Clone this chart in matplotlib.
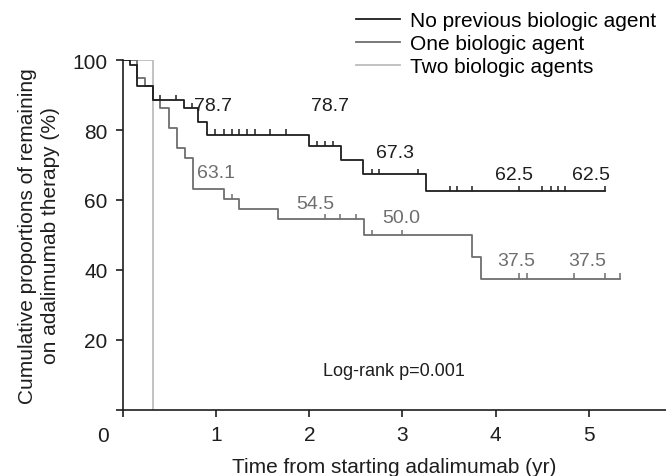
import numpy as np
import matplotlib
matplotlib.use("Agg")
import matplotlib.pyplot as plt

plt.rcParams['font.family'] = ['Liberation Sans', 'DejaVu Sans']

# Curva: sin agente biologico previo
t_none = [0, 0.075, 0.155, 0.325, 0.655, 0.81, 0.90, 2.00, 2.34, 2.58, 3.25, 5.18]
s_none = [100, 98.6, 92.7, 88.6, 86.2, 82.2, 78.7, 75.5, 71.4, 67.3, 62.5, 62.5]
c_none = [0.40, 0.57, 0.74, 0.99, 1.08, 1.17, 1.25, 1.33, 1.42, 1.58, 1.75,
          2.08, 2.17, 2.25, 2.67, 2.75, 3.17, 3.51, 3.59, 3.75, 4.25, 4.50,
          4.59, 4.67, 4.75, 5.18]

# Curva: un agente biologico
t_one = [0, 0.155, 0.236, 0.325, 0.40, 0.497, 0.582, 0.665, 0.747, 1.083,
         1.247, 1.666, 2.585, 3.75, 3.84, 5.34]
s_one = [100, 94.9, 92.5, 88.6, 86.4, 80.6, 74.9, 72.0, 63.1, 60.3, 57.4,
         54.5, 50.0, 43.8, 37.5, 37.5]
c_one = [1.165, 2.17, 2.33, 2.50, 2.67, 3.00, 4.25, 4.34, 4.84, 5.17, 5.34]

# Curva: dos agentes biologicos
t_two = [0, 0.322]
s_two = [100, 0]

# Etiquetas de supervivencia
lab_none = ["78.7", "78.7", "67.3", "62.5", "62.5"]
lab_none_xy = [(0.97, 86.9), (2.22, 86.9), (2.92, 73.7), (4.20, 67.4), (5.03, 67.4)]
lab_one = ["63.1", "54.5", "50.0", "37.5", "37.5"]
lab_one_xy = [(1.00, 67.9), (2.06, 58.9), (2.99, 55.0), (4.22, 42.7), (4.98, 42.7)]

col_none = "#1e1e1e"
col_one = "#6e6e6e"
col_two = "#bdbdbd"

fig = plt.figure(figsize=(6.66, 4.77), dpi=100)
ax = fig.add_axes([0.1847, 0.1384, 0.8153, 0.7337])

l2, = ax.step(t_two, s_two, where="post", color=col_two, lw=1.3, label="Two biologic agents")
l1, = ax.step(t_one, s_one, where="post", color=col_one, lw=1.3, label="One biologic agent")
l0, = ax.step(t_none, s_none, where="post", color=col_none, lw=1.3, label="No previous biologic agent")

# marcas de censura (pequenas lineas hacia arriba)
y_none = [s_none[np.searchsorted(t_none, c, side="right") - 1] for c in c_none]
y_one = [s_one[np.searchsorted(t_one, c, side="right") - 1] for c in c_one]
ax.vlines(c_none, y_none, np.array(y_none) + 1.5, color=col_none, lw=1.1)
ax.vlines(c_one, y_one, np.array(y_one) + 1.5, color=col_one, lw=1.1)

for s, (x, y) in zip(lab_none, lab_none_xy):
    ax.text(x, y, s, color=col_none, fontsize=14, ha="center", va="center")
for s, (x, y) in zip(lab_one, lab_one_xy):
    ax.text(x, y, s, color=col_one, fontsize=14, ha="center", va="center")

ax.text(2.15, 11.2, "Log-rank p=0.001", fontsize=13, ha="left", va="center", color="#1e1e1e")

ax.set_xlim(0, 5.83)
ax.set_ylim(0, 100)
ax.set_xticks([0, 1, 2, 3, 4, 5])
ax.set_xticklabels(["", "1", "2", "3", "4", "5"])
ax.set_yticks([0, 20, 40, 60, 80, 100])
ax.set_yticklabels(["", "20", "40", "60", "80", "100"])
ax.text(-0.21, -0.074, "0", transform=ax.get_xaxis_transform(), fontsize=15,
        ha="center", va="center", color="#1e1e1e")
ax.tick_params(direction="out", length=5, width=1.2, labelsize=15, colors="#1e1e1e", pad=6)
for sp in ["top", "right"]:
    ax.spines[sp].set_visible(False)
for sp in ["left", "bottom"]:
    ax.spines[sp].set_linewidth(1.2)
    ax.spines[sp].set_color("#1e1e1e")

ax.set_xlabel("Time from starting adalimumab (yr)", fontsize=15, labelpad=9, color="#1e1e1e")
ax.set_ylabel("Cumulative proportions of remaining\non adalimumab therapy (%)",
              fontsize=15, labelpad=9, color="#1e1e1e", linespacing=1.25)

fig.legend(handles=[l0, l1, l2], loc="upper left", bbox_to_anchor=(0.535, 0.975),
           frameon=False, fontsize=15, handlelength=2.1, handletextpad=0.5,
           labelspacing=0.2, borderpad=0, borderaxespad=0)

fig.savefig("out.png", dpi=100)
